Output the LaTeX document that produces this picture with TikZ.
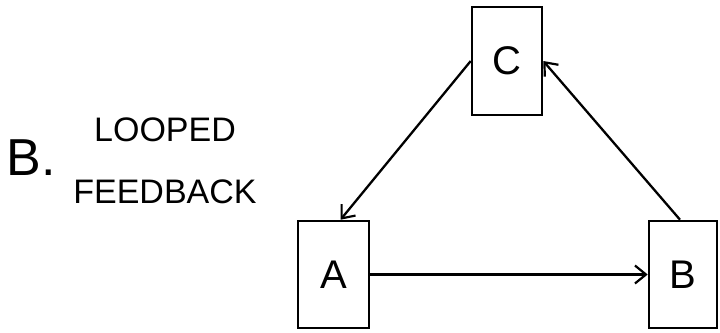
\documentclass[tikz,border=0pt]{standalone}
\usepackage{fontspec}
\setmainfont{Liberation Sans}
\usetikzlibrary{arrows.meta}
\begin{document}
\begin{tikzpicture}[x=1pt,y=-1pt,
  box/.style={draw, line width=2.6pt, inner sep=0pt, font=\fontsize{40}{40}\selectfont},
  flow/.style={draw, line width=2.3pt, -{Straight Barb[length=11pt,width=18pt,line width=2.2pt]}},
  label/.style={font=\fontsize{34}{34}\selectfont, inner sep=0pt}]
  \useasboundingbox (0,0) rectangle (720,332);
  % the three stations of the loop
  \node[box, minimum width=70pt, minimum height=108pt] (C) at (507,61) {C};
  \node[box, minimum width=71pt, minimum height=107pt] (A) at (333.5,274.5) {A};
  \node[box, minimum width=68pt, minimum height=107pt] (B) at (683,274.5) {B};
  % caption
  \node[font=\fontsize{52}{52}\selectfont, inner sep=0pt] (tag) at (31,158) {B.};
  \node[label] (l1) at (165,130) {LOOPED};
  \node[label] (l2) at (165,192) {FEEDBACK};
  % connectors
  \draw[flow] (C.west) -- ([xshift=7pt]A.north);
  \draw[flow] (A.east) -- (B.west);
  \draw[flow] ([xshift=-3pt]B.north) -- (C.east);
\end{tikzpicture}
\end{document}
